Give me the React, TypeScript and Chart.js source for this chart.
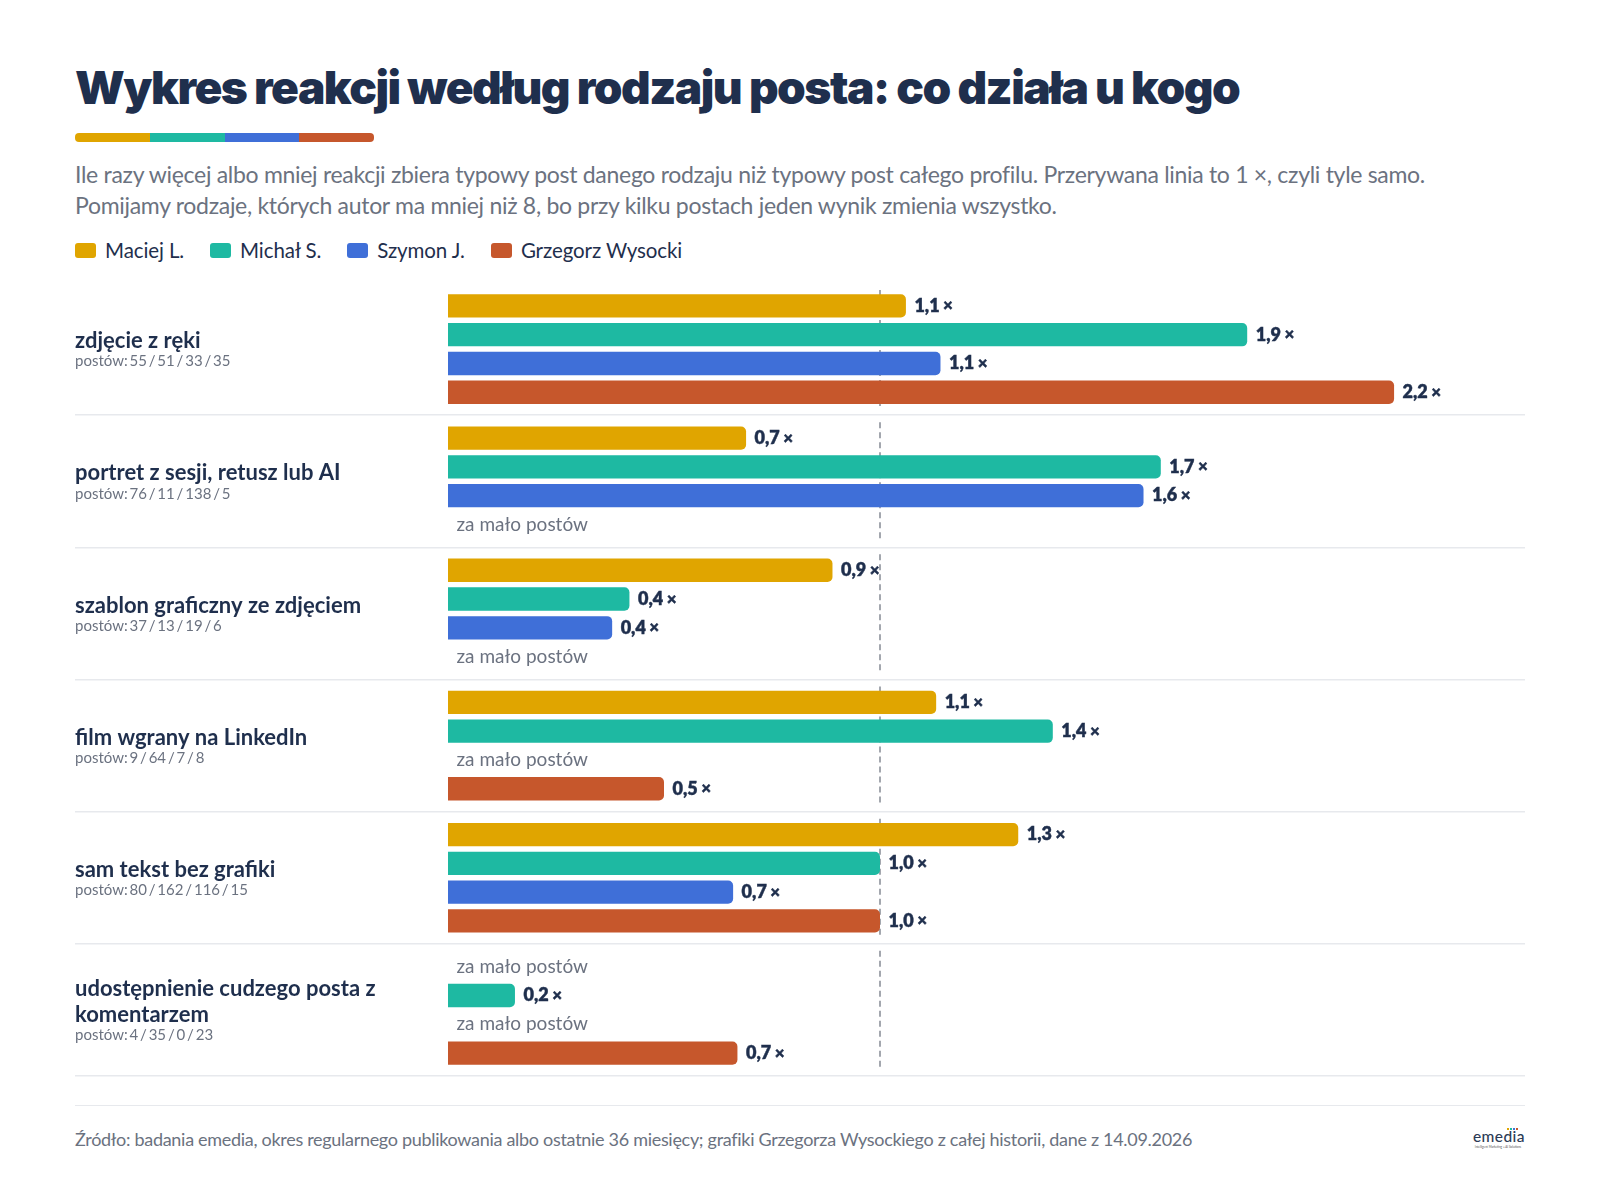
import { useEffect, useRef } from 'react';
import Chart from 'chart.js/auto';

const FONT = 'Lato, "Noto Sans", sans-serif';
const NAVY = '#1f2f4d';
const GREY = '#6b7280';

const categories = [
  'zdjęcie z ręki',
  'portret z sesji, retusz lub AI',
  'szablon graficzny ze zdjęciem',
  'film wgrany na LinkedIn',
  'sam tekst bez grafiki',
  'udostępnienie cudzego posta z|komentarzem',
];
const postCounts = [
  'postów: 55 / 51 / 33 / 35',
  'postów: 76 / 11 / 138 / 5',
  'postów: 37 / 13 / 19 / 6',
  'postów: 9 / 64 / 7 / 8',
  'postów: 80 / 162 / 116 / 15',
  'postów: 4 / 35 / 0 / 23',
];

const authors = ['Maciej L.', 'Michał S.', 'Szymon J.', 'Grzegorz Wysocki'];
const authorColors = ['#e0a500', '#1eb9a2', '#3f6fd8', '#c6572c'];
const logoDots = ['#e0a500', '#1eb9a2', '#3f6fd8', '#c6572c'];

// bar lengths, labels are the rounded values printed next to them
const maciej = [1.06, 0.69, 0.89, 1.13, 1.32, null];
const michal = [1.85, 1.65, 0.42, 1.4, 1.0, 0.155];
const szymon = [1.14, 1.61, 0.38, null, 0.66, null];
const grzegorz = [2.19, null, null, 0.5, 1.0, 0.67];
const seriesValues = [maciej, michal, szymon, grzegorz];

const maciejLabels = ['1,1', '0,7', '0,9', '1,1', '1,3', ''];
const michalLabels = ['1,9', '1,7', '0,4', '1,4', '1,0', '0,2'];
const szymonLabels = ['1,1', '1,6', '0,4', '', '0,7', ''];
const grzegorzLabels = ['2,2', '', '', '0,5', '1,0', '0,7'];
const seriesLabels = [maciejLabels, michalLabels, szymonLabels, grzegorzLabels];

const MISSING_TEXT = 'za mało postów';
const REFERENCE_VALUE = 1;

// Everything the bars do not draw themselves: reference line, value and row labels
const rowDecorations = {
  id: 'rowDecorations',
  beforeDatasetsDraw(chart: any) {
    const { ctx, scales } = chart;
    const x = scales.x.getPixelForValue(REFERENCE_VALUE);
    const half = (scales.y.getPixelForValue(1) - scales.y.getPixelForValue(0)) / 2;
    ctx.save();
    ctx.strokeStyle = '#a3a7ae';
    ctx.lineWidth = 2;
    ctx.setLineDash([6, 4]);
    categories.forEach((_, i) => {
      const c = scales.y.getPixelForValue(i);
      ctx.beginPath();
      ctx.moveTo(x, c - half + 7);
      ctx.lineTo(x, c + half - 7);
      ctx.stroke();
    });
    ctx.restore();
  },
  afterDatasetsDraw(chart: any) {
    const { ctx, scales } = chart;
    ctx.save();
    ctx.textBaseline = 'middle';
    ctx.textAlign = 'left';

    seriesValues.forEach((values, s) => {
      const meta = chart.getDatasetMeta(s);
      values.forEach((v, i) => {
        const bar = meta.data[i];
        if (v === null) {
          ctx.font = `400 19px ${FONT}`;
          ctx.fillStyle = GREY;
          ctx.fillText(MISSING_TEXT, scales.x.getPixelForValue(0) + 8.5, bar.y);
          return;
        }
        const text = seriesLabels[s][i];
        ctx.font = `800 18px ${FONT}`;
        ctx.fillStyle = NAVY;
        ctx.strokeStyle = NAVY;
        ctx.lineWidth = 0.4;
        const left = bar.x + 8.5;
        ctx.fillText(text, left, bar.y);
        ctx.strokeText(text, left, bar.y);
        const w = ctx.measureText(text).width;
        ctx.font = `800 17px ${FONT}`;
        ctx.fillText('×', left + w + 3.5, bar.y);
        ctx.strokeText('×', left + w + 3.5, bar.y);
      });
    });

    // row titles sit left of the zero line
    categories.forEach((name, i) => {
      const c = scales.y.getPixelForValue(i);
      const lines = name.split('|');
      const top = c - 8 - (lines.length - 1) * 13;
      ctx.font = `700 22px ${FONT}`;
      ctx.fillStyle = NAVY;
      lines.forEach((line, l) => ctx.fillText(line, chart.chartArea.left, top + l * 25.5));
      ctx.font = `400 15px ${FONT}`;
      ctx.fillStyle = GREY;
      ctx.wordSpacing = '-2px';
      ctx.fillText(postCounts[i], chart.chartArea.left, top + (lines.length - 1) * 25.5 + 20.5);
      ctx.wordSpacing = '0px';
    });
    ctx.restore();
  },
};

export default function App() {
  const canvasRef = useRef<HTMLCanvasElement>(null);

  useEffect(() => {
    if (!canvasRef.current) return;
    const chart = new Chart(canvasRef.current, {
      type: 'bar',
      data: {
        labels: categories,
        datasets: authors.map((author, s) => ({
          label: author,
          data: seriesValues[s],
          backgroundColor: authorColors[s],
          borderRadius: 5,
          categoryPercentage: 0.871,
          barPercentage: 0.81,
        })),
      },
      options: {
        indexAxis: 'y',
        animation: false,
        responsive: false,
        layout: { padding: { left: 75, right: 75, top: 0, bottom: 2 } },
        scales: {
          // 432 px per 1×, zero at x=448, so the scale runs out to the row separators
          x: { min: (75 - 448) / 432, max: (1525 - 448) / 432, display: false },
          y: {
            ticks: { display: false },
            border: { display: false },
            grid: {
              drawTicks: false,
              lineWidth: 1.5,
              color: (ctx: any) => (ctx.index === 0 ? 'transparent' : '#e7e9ed'),
            },
          },
        },
        plugins: { legend: { display: false }, tooltip: { enabled: false } },
      },
      plugins: [rowDecorations],
    });
    return () => chart.destroy();
  }, []);

  return (
    <div style={{ position: 'absolute', left: 0, top: 0, width: 1600, height: 1191, background: '#fff', fontFamily: FONT, overflow: 'hidden' }}>
      <div style={{ position: 'absolute', left: 75, top: 57, fontFamily: 'Inter, Lato, sans-serif', fontSize: 46, fontWeight: 900, letterSpacing: -1.5, color: NAVY, whiteSpace: 'nowrap', lineHeight: '60px' }}>
        Wykres reakcji według rodzaju posta: co działa u kogo
      </div>
      <div style={{ position: 'absolute', left: 75, top: 133, display: 'flex', borderRadius: 4, overflow: 'hidden' }}>
        {authorColors.map((c) => (
          <div key={c} style={{ width: 74.75, height: 9, background: c }} />
        ))}
      </div>
      <div style={{ position: 'absolute', left: 75, top: 159, fontSize: 23, lineHeight: '31px', letterSpacing: -0.3, color: GREY, whiteSpace: 'nowrap' }}>
        Ile razy więcej albo mniej reakcji zbiera typowy post danego rodzaju niż typowy post całego profilu. Przerywana linia to 1 ×, czyli tyle samo.
        <br />
        Pomijamy rodzaje, których autor ma mniej niż 8, bo przy kilku postach jeden wynik zmienia wszystko.
      </div>
      <div style={{ position: 'absolute', left: 75, top: 237, display: 'flex', fontSize: 20.5, letterSpacing: -0.1, lineHeight: '26px', color: NAVY }}>
        {authors.map((a, s) => (
          <div key={a} style={{ display: 'flex', alignItems: 'center', marginRight: 26 }}>
            <span style={{ width: 21, height: 15, borderRadius: 3, background: authorColors[s], marginRight: 9 }} />
            {a}
          </div>
        ))}
      </div>
      <canvas ref={canvasRef} width={1600} height={795} style={{ position: 'absolute', left: 0, top: 283, display: 'block' }} />
      <div style={{ position: 'absolute', left: 75, top: 1105, width: 1450, borderTop: '1.5px solid #e7e9ed' }} />
      <div style={{ position: 'absolute', left: 75, top: 1126, fontSize: 18, letterSpacing: -0.3, lineHeight: '26px', color: GREY, whiteSpace: 'nowrap' }}>
        Źródło: badania emedia, okres regularnego publikowania albo ostatnie 36 miesięcy; grafiki Grzegorza Wysockiego z całej historii, dane z 14.09.2026
      </div>
      <div style={{ position: 'absolute', left: 1473, top: 1127, width: 50, textAlign: 'center', color: '#2b3a55' }}>
        <div style={{ position: 'absolute', left: 34, top: 1, display: 'flex', gap: 1 }}>
          {logoDots.map((c) => (
            <span key={c} style={{ width: 2, height: 2, background: c }} />
          ))}
        </div>
        <div style={{ fontSize: 15.5, fontWeight: 500, letterSpacing: 0.4, lineHeight: '18px' }}>emedia</div>
        <div style={{ fontSize: 3, lineHeight: '4px', whiteSpace: 'nowrap', color: '#555' }}>Intelligent Marketing + AI Solutions</div>
      </div>
    </div>
  );
}
